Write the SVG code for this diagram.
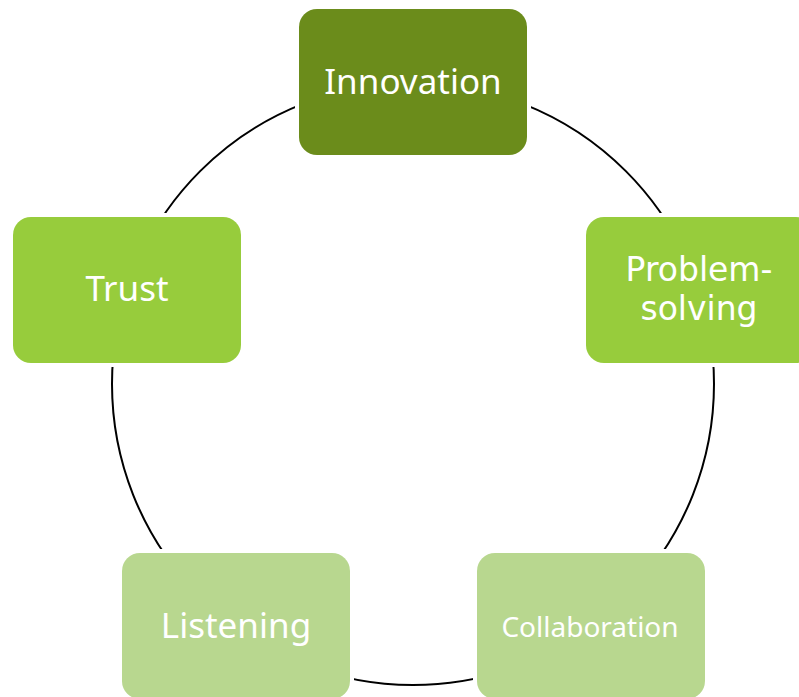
<svg xmlns="http://www.w3.org/2000/svg" width="799" height="697" viewBox="0 0 799 697">
<style>
.gap{fill:#ffffff}
.box{stroke:none}
.dark{fill:#6B8C1B}
.mid{fill:#97CC3C}
.light{fill:#B8D78F}
.lbl{font-family:"Noto Sans","DejaVu Sans",sans-serif;font-size:35px;fill:#ffffff;text-anchor:middle}
.small{font-size:28px}
.two{font-family:"DejaVu Sans",sans-serif;font-size:33px}
</style>
<rect width="799" height="697" fill="#ffffff"/>
<g id="connectors">
<circle cx="413" cy="384" r="301" fill="none" stroke="#000000" stroke-width="2"/>
</g>
<g id="innovation">
<rect class="gap" x="295" y="5" width="236" height="154" rx="22"/>
<rect class="box dark" x="299" y="9" width="228" height="146" rx="18"/>
<text class="lbl" x="413" y="94">Innovation</text>
</g>
<g id="problem-solving">
<rect class="gap" x="582" y="213" width="236" height="154" rx="22"/>
<rect class="box mid" x="586" y="217" width="228" height="146" rx="18"/>
<text class="lbl two" x="699" y="281">Problem-</text>
<text class="lbl two" x="699" y="320">solving</text>
</g>
<g id="collaboration">
<rect class="gap" x="473" y="549" width="236" height="154" rx="22"/>
<rect class="box light" x="477" y="553" width="228" height="146" rx="18"/>
<text class="lbl small" x="590" y="637">Collaboration</text>
</g>
<g id="listening">
<rect class="gap" x="118" y="549" width="236" height="154" rx="22"/>
<rect class="box light" x="122" y="553" width="228" height="146" rx="18"/>
<text class="lbl" x="236" y="638">Listening</text>
</g>
<g id="trust">
<rect class="gap" x="9" y="213" width="236" height="154" rx="22"/>
<rect class="box mid" x="13" y="217" width="228" height="146" rx="18"/>
<text class="lbl" x="127" y="301">Trust</text>
</g>
</svg>
